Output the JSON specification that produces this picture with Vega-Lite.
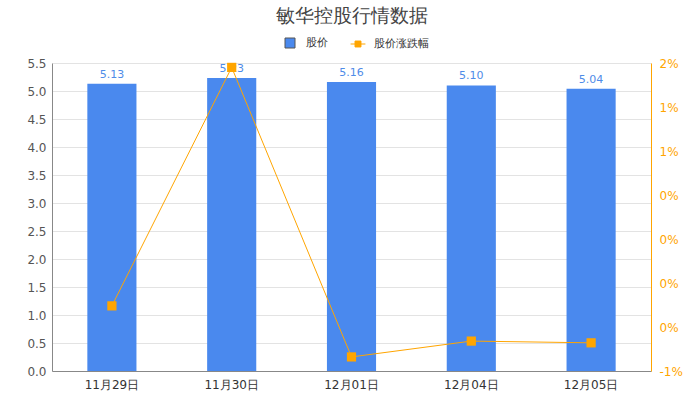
{
  "$schema": "https://vega.github.io/schema/vega-lite/v6.json",
  "width": 599,
  "height": 308,
  "autosize": "none",
  "padding": {"left": 52, "top": 63, "right": 49, "bottom": 29},
  "background": "white",
  "title": {"text": "敏华控股行情数据", "fontSize": 19, "fontWeight": "normal", "color": "#444444", "anchor": "middle", "offset": 9},
  "config": {
    "font": "DejaVu Sans",
    "view": {"stroke": null},
    "axis": {"labelFont": "DejaVu Sans", "titleFont": "DejaVu Sans"},
    "legend": {"labelFont": "DejaVu Sans"}
  },
  "data": {
    "values": [
      {"date": "11月29日", "price": 5.13, "change": -0.76},
      {"date": "11月30日", "price": 5.23, "change": 1.95},
      {"date": "12月01日", "price": 5.16, "change": -1.34},
      {"date": "12月04日", "price": 5.10, "change": -1.16},
      {"date": "12月05日", "price": 5.04, "change": -1.18}
    ]
  },
  "encoding": {
    "x": {
      "field": "date", "type": "nominal", "sort": null,
      "scale": {"paddingInner": 0.59, "paddingOuter": 0.295},
      "axis": {"title": null, "labelAngle": 0, "labelFontSize": 12, "labelColor": "#333333", "ticks": false, "domainColor": "#888888", "labelPadding": 8}
    }
  },
  "layer": [
    {
      "encoding": {
        "y": {
          "field": "price", "type": "quantitative",
          "scale": {"domain": [0, 5.5], "nice": false},
          "axis": {"title": null, "values": [0,0.5,1,1.5,2,2.5,3,3.5,4,4.5,5,5.5], "format": ".1f", "labelOverlap": false, "labelFlush": false, "labelFontSize": 12, "labelColor": "#555555", "ticks": false, "domainColor": "#888888", "gridColor": "#e3e3e3", "labelPadding": 6}
        }
      },
      "layer": [
        {
          "mark": {"type": "bar", "color": "#4a89ee"},
          "encoding": {
            "color": {"datum": "股价", "type": "nominal",
              "scale": {"domain": ["股价", "股价涨跌幅"], "range": ["#4a89ee", "#ffa500"]},
              "legend": {
                "title": null, "orient": "none", "legendX": 230, "legendY": -28, "direction": "horizontal",
                "labelFontSize": 11, "labelColor": "#333333", "symbolSize": 100, "columnPadding": 20, "labelOffset": 8,
                "encode": {
                  "symbols": {"update": {
                    "shape": {"signal": "datum.value == '股价' ? 'square' : 'M-1,0H1M-0.4,-0.4H0.4V0.4H-0.4Z'"},
                    "fill": {"signal": "datum.value == '股价' ? '#4a89ee' : '#ffa500'"},
                    "stroke": {"signal": "datum.value == '股价' ? '#555555' : '#ffa500'"},
                    "strokeWidth": {"value": 1},
                    "size": {"signal": "datum.value == '股价' ? 100 : 220"}
                  }}
                }
              }
            }
          }
        },
        {
          "mark": {"type": "text", "baseline": "bottom", "dy": -4, "fontSize": 11, "color": "#4f8ce8"},
          "encoding": {
            "text": {"field": "price", "type": "quantitative", "format": ".2f"}
          }
        }
      ]
    },
    {
      "mark": {"type": "line", "color": "#ffa500", "strokeWidth": 1, "point": {"shape": "square", "size": 85, "filled": true, "color": "#ffa500"}},
      "encoding": {
        "y": {
          "field": "change", "type": "quantitative",
          "scale": {"domain": [-1.5, 2], "nice": false},
          "axis": {
            "title": null, "orient": "right", "grid": false, "ticks": false,
            "values": [-1.5,-1,-0.5,0,0.5,1,1.5,2],
            "labelExpr": "datum.value >= 1.99 ? '2%' : datum.value >= 0.99 ? '1%' : datum.value > -1.2 ? '0%' : '-1%'",
            "labelOverlap": false, "labelFlush": false,
            "labelFontSize": 12, "labelColor": "#ffa500", "domainColor": "#ffa500", "labelPadding": 8
          }
        }
      }
    }
  ],
  "resolve": {"scale": {"y": "independent"}}
}
